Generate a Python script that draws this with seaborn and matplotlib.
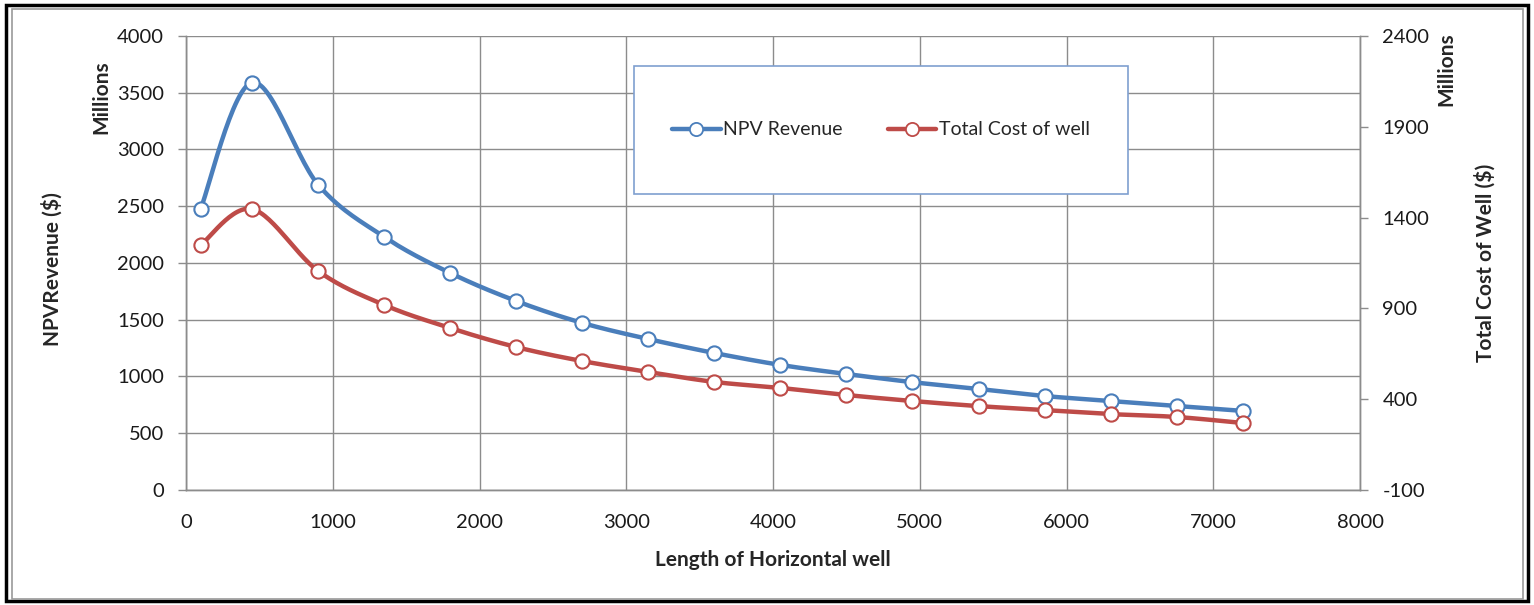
import numpy as np
import pandas as pd
import matplotlib
matplotlib.use("Agg")
import matplotlib.pyplot as plt
import seaborn as sns
from matplotlib.patches import Rectangle
from matplotlib.lines import Line2D

# ---- data ----
length_m = [100, 450, 900, 1350, 1800, 2250, 2700, 3150, 3600, 4050,
            4500, 4950, 5400, 5850, 6300, 6750, 7200]
npv_revenue = [2480, 3590, 2690, 2230, 1912, 1665, 1472, 1330, 1207, 1102,
               1022, 950, 890, 828, 784, 740, 697]
total_cost = [1249, 1447, 1106, 919, 792, 687, 610, 550, 495, 462,
              423, 390, 362, 340, 318, 302, 269]
x_ticks = [0, 1000, 2000, 3000, 4000, 5000, 6000, 7000, 8000]
left_ticks = [0, 500, 1000, 1500, 2000, 2500, 3000, 3500, 4000]
right_ticks = [-100, 400, 900, 1400, 1900, 2400]

BLUE = "#4A7EBB"
RED = "#BE4B48"
GRID = "#8C8C8C"
FONT = ["Lato", "DejaVu Sans"]

sns.set_theme(style="white")
plt.rcParams["font.family"] = FONT
plt.rcParams["axes.unicode_minus"] = False


def smooth(xs, ys, n=30):
    """Excel-style smoothed line rendering (Catmull-Rom Bezier) through the points."""
    P = np.column_stack([xs, ys]).astype(float)
    out = []
    for i in range(len(P) - 1):
        p0 = P[i - 1] if i > 0 else P[i]
        p1, p2 = P[i], P[i + 1]
        p3 = P[i + 2] if i + 2 < len(P) else P[i + 1]
        c1 = p1 + (p2 - p0) / 6.0
        c2 = p2 - (p3 - p1) / 6.0
        t = np.linspace(0, 1, n)[:, None]
        seg = ((1 - t) ** 3) * p1 + 3 * ((1 - t) ** 2) * t * c1 + 3 * (1 - t) * t ** 2 * c2 + t ** 3 * p2
        out.append(seg if i == 0 else seg[1:])
    s = np.vstack(out)
    return pd.DataFrame({"x": s[:, 0], "y": s[:, 1], "o": np.arange(len(s))})


fig = plt.figure(figsize=(15.34, 6.05), dpi=100)
ax = fig.add_axes([0.1213, 0.1901, 0.7653, 0.7504])
ax2 = ax.twinx()

df = pd.DataFrame({"x": length_m, "npv": npv_revenue, "cost": total_cost})

sb = smooth(length_m, npv_revenue)
sr = smooth(length_m, total_cost)
sns.lineplot(data=sb, x="x", y="y", sort=False, ax=ax, color=BLUE, lw=3.2, zorder=3)
sns.scatterplot(data=df, x="x", y="npv", ax=ax, s=105, color="white", edgecolor=BLUE,
                linewidth=1.5, zorder=4)
sns.lineplot(data=sr, x="x", y="y", sort=False, ax=ax2, color=RED, lw=3.2, zorder=3)
sns.scatterplot(data=df, x="x", y="cost", ax=ax2, s=105, color="white", edgecolor=RED,
                linewidth=1.5, zorder=4)

ax.set_xlim(0, 8000)
ax.set_ylim(0, 4000)
ax2.set_ylim(-100, 2400)
ax.set_xticks(x_ticks)
ax.set_yticks(left_ticks)
ax2.set_yticks(right_ticks)
ax.grid(True, color=GRID, lw=1.0)
ax2.grid(False)

for a in (ax, ax2):
    for sp in a.spines.values():
        sp.set_color(GRID)
        sp.set_linewidth(1.0)
    a.tick_params(direction="out", length=6, width=1, color=GRID, labelsize=14.5,
                  labelcolor="#1a1a1a", pad=6)
ax.spines["top"].set_visible(False)
ax2.spines["top"].set_visible(False)
ax.tick_params(axis="x", pad=11)
ax.tick_params(axis="y", pad=10)
ax2.tick_params(axis="y", pad=10)

ax.set_xlabel("Length of Horizontal well", fontsize=15, fontweight="bold", labelpad=14)
ax.set_ylabel("")
ax2.set_ylabel("")
fig.text(0.034, 0.555, "NPVRevenue ($)", rotation=90, fontsize=15, fontweight="bold",
         ha="center", va="center")
fig.text(0.066, 0.84, "Millions", rotation=90, fontsize=15, fontweight="bold",
         ha="center", va="center")
fig.text(0.968, 0.565, "Total Cost of Well ($)", rotation=90, fontsize=15, fontweight="bold",
         ha="center", va="center")
fig.text(0.943, 0.885, "Millions", rotation=90, fontsize=15, fontweight="bold",
         ha="center", va="center")

# legend box
bx0, by0, bx1, by1 = 0.3816, 0.652, 0.8024, 0.934
ax2.add_patch(Rectangle((bx0, by0), bx1 - bx0, by1 - by0, transform=ax2.transAxes,
                        facecolor="white", edgecolor="#7F9FCF", lw=1.2, zorder=10))
handles = [Line2D([], [], color=BLUE, lw=3.2, marker="o", ms=9.5, mfc="white", mec=BLUE, mew=1.3),
           Line2D([], [], color=RED, lw=3.2, marker="o", ms=9.5, mfc="white", mec=RED, mew=1.3)]
leg = ax2.legend(handles, ["NPV Revenue", "Total Cost of well"], loc="center",
                 bbox_to_anchor=((bx0 + bx1) / 2, (by0 + by1) / 2), ncol=2, frameon=False,
                 fontsize=14, handlelength=2.5, handletextpad=0.15, columnspacing=2.3,
                 numpoints=1)
leg.set_zorder(11)

# outer frame
fig.add_artist(Rectangle((0.004, 0.006), 0.992, 0.985, transform=fig.transFigure,
                         fill=False, edgecolor="black", lw=2.5))
fig.add_artist(Rectangle((0.008, 0.010), 0.985, 0.975, transform=fig.transFigure,
                         fill=False, edgecolor="#9a9a9a", lw=1.2))

fig.savefig("out.png", dpi=100)
